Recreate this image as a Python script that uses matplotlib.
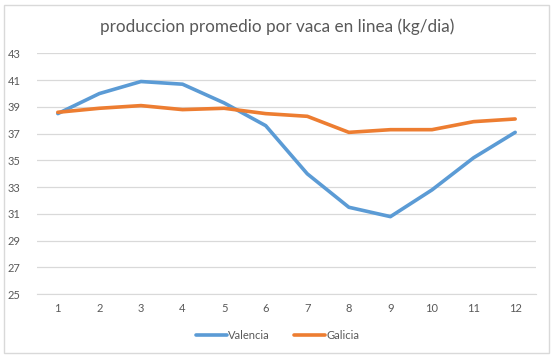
import matplotlib
matplotlib.use("Agg")
import matplotlib.pyplot as plt
from matplotlib.patches import Rectangle

meses = list(range(1, 13))
valencia = [38.5, 40.0, 40.9, 40.7, 39.3, 37.6, 34.0, 31.5, 30.8, 32.8, 35.2, 37.1]
galicia = [38.6, 38.9, 39.1, 38.8, 38.9, 38.5, 38.3, 37.1, 37.3, 37.3, 37.9, 38.1]
yticks = list(range(25, 44, 2))

plt.rcParams['font.family'] = ['Lato', 'DejaVu Sans']

fig = plt.figure(figsize=(5.55, 3.61), dpi=100)
ax = fig.add_axes([0.0667, 0.185, 0.899, 0.667])

ax.plot(meses, valencia, color='#5B9BD5', lw=2.6, label='Valencia', solid_capstyle='round')
ax.plot(meses, galicia, color='#ED7D31', lw=2.6, label='Galicia', solid_capstyle='round')

ax.set_xlim(0.5, 12.5)
ax.set_ylim(25, 43)
ax.set_yticks(yticks)
ax.set_xticks(meses)
ax.grid(axis='y', color='#D9D9D9', lw=0.9)
ax.set_axisbelow(True)
for s in ['top', 'right', 'left']:
    ax.spines[s].set_visible(False)
ax.spines['bottom'].set_color('#D9D9D9')
ax.tick_params(length=0, labelsize=8, labelcolor='#595959', pad=6)
ax.tick_params(axis='y', pad=12)

fig.text(0.5, 0.925, 'produccion promedio por vaca en linea (kg/dia)',
         ha='center', va='center', fontsize=12.3, color='#595959')

fig.legend(loc='center', bbox_to_anchor=(0.5, 0.07), ncol=2, frameon=False,
           fontsize=8, labelcolor='#595959', handlelength=2.8, handletextpad=0.1,
           columnspacing=2.2)

# marco del grafico
fig.patches.append(Rectangle((0.0072, 0.022), 0.982, 0.964, transform=fig.transFigure,
                             fill=False, edgecolor='#D9D9D9', lw=1))

fig.savefig('out.png', dpi=100)
